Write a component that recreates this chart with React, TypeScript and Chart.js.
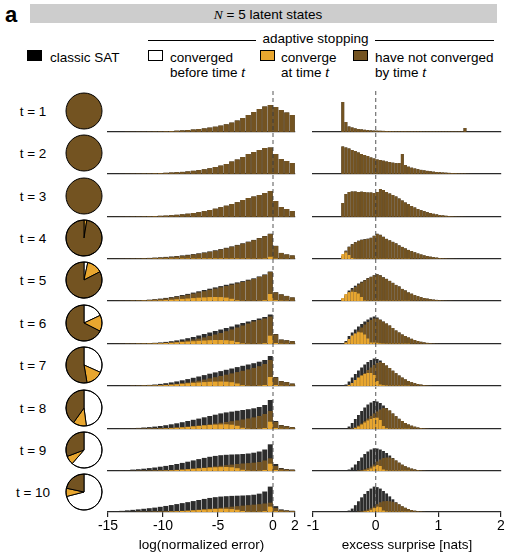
import React, { useEffect, useRef } from 'react';
import { Chart, registerables } from 'chart.js';

Chart.register(...registerables);

const FONT = "'Liberation Sans', Arial, Helvetica, sans-serif";
const COLOR_SAT = '#2c2c2c';
const COLOR_NOT = '#735321';
const COLOR_AT = '#e8a62f';
const COLOR_BEFORE = '#ffffff';

const ROW_LABELS = ['t = 1', 't = 2', 't = 3', 't = 4', 't = 5', 't = 6', 't = 7', 't = 8', 't = 9', 't = 10'];

// bins
const LEFT_BIN_START = -15;
const LEFT_BIN_WIDTH = 0.5;
const RIGHT_BIN_START = -0.6;
const RIGHT_BIN_WIDTH = 0.05;
const LEFT_MIN = -15;
const LEFT_MAX = 2;
const RIGHT_MIN = -1;
const RIGHT_MAX = 2;
const LEFT_TICKS = [-15, -10, -5, 0, 2];
const RIGHT_TICKS = [-1, 0, 1, 2];

// pie shares (%): converged before t, converge at t, not converged by t
const PIE_BEFORE = [0, 0, 0, 0, 3.4, 18, 31.7, 47.9, 61.4, 71];
const PIE_AT = [0, 0, 0, 2.5, 14, 14.5, 15.6, 12, 7.8, 7.4];
const PIE_NOT = [100, 100, 100, 97.5, 82.6, 67.5, 52.7, 40.1, 30.8, 21.6];

// ---- left column: log(normalized error) histograms ----
const LEFT_NOT_T1 = [0,0,0,0.2,0.2,0.3,0.3,0.4,0.5,0.6,0.8,1.0,1.3,1.6,2.0,2.5,3.0,3.6,4.4,5.3,6.4,7.7,9.4,11.5,14,17,20,23,25.5,27,25,22,19.5,17];
const LEFT_SAT_T1 = LEFT_NOT_T1;
const LEFT_AT_T1: number[] = [];
const LEFT_NOT_T2 = [0,0,0.1,0.2,0.3,0.4,0.5,0.6,0.8,1.0,1.2,1.5,1.8,2.1,2.6,3.2,3.9,4.7,5.7,7,8.4,10,12.5,14.5,17,20,22,24,26,26.5,20,15,13,11];
const LEFT_SAT_T2 = LEFT_NOT_T2;
const LEFT_AT_T2: number[] = [];
const LEFT_NOT_T3 = [0.1,0.1,0.2,0.3,0.4,0.5,0.6,0.8,1.0,1.2,1.4,1.8,2.2,2.7,3.3,4,4.8,5.8,7,8.3,9.8,11.3,13,14.8,17,19,20.5,22,24,26,16,10,8,6];
const LEFT_SAT_T3 = LEFT_NOT_T3;
const LEFT_AT_T3: number[] = [];
const LEFT_NOT_T4 = [0.1,0.1,0.2,0.3,0.4,0.5,0.7,0.9,1.1,1.4,1.7,2.1,2.6,3.1,3.7,4.4,5.2,6.1,7.1,8.2,9.4,10.7,12.2,13.7,15.3,17,18.8,20.7,22.7,25,13,6,4.5,3.5];
const LEFT_SAT_T4 = [0.1,0.2,0.3,0.4,0.5,0.7,0.9,1.1,1.4,1.7,2.1,2.5,3.0,3.6,4.2,4.9,5.7,6.6,7.6,8.7,9.9,11.2,12.6,14.1,15.7,17.4,19.1,21,23,25.3,13.2,6.1,4.6,3.6];
const LEFT_AT_T4 = [0,0,0,0,0,0,0,0,0.2,0.3,0.3,0.4,0.4,0.5,0.5,0.5,0.5,0.6,0.6,0.6,0.6,0.5,0.5,0.5,0.4,0.4,0.3,0.3,0.5,2.2,0.4,0.1,0.1,0];
const LEFT_NOT_T5 = [0,0.1,0.2,0.3,0.4,0.6,0.8,1.1,1.5,2.0,2.6,3.3,4.2,5.2,6.2,7.4,8.6,9.8,11.1,12.4,13.7,15,16.3,17.6,19,20.5,22,24,26,29,8.5,6.5,5,3.5];
const LEFT_SAT_T5 = [0,0.1,0.2,0.3,0.5,0.7,1.0,1.3,1.8,2.4,3.1,3.9,4.9,6.0,7.1,8.4,9.7,11,12.3,13.6,14.9,16.2,17.4,18.6,19.9,21.3,22.7,24.6,26.6,29.5,8.8,6.7,5.1,3.6];
const LEFT_AT_T5 = [0,0,0,0,0.1,0.1,0.2,0.3,0.4,0.6,0.9,1.3,1.7,2.1,2.5,2.9,3.3,3.6,3.9,4.0,3.9,3.4,2.2,0.7,0.2,0.1,0.1,0.2,0.8,7,0.8,0.3,0.2,0.1];
const LEFT_NOT_T6 = [0,0.1,0.2,0.2,0.3,0.4,0.5,0.6,0.8,1.0,1.3,1.7,2.2,2.8,3.5,4.4,5.4,6.6,8,9.5,11,12.8,14.6,16.5,18.5,20.5,22.5,24,25.5,27.5,9.5,4.3,3.6,2.8];
const LEFT_SAT_T6 = [0,0.1,0.2,0.3,0.4,0.5,0.7,0.9,1.2,1.6,2.1,2.8,3.6,4.6,5.8,7,8.5,10,11.5,13,14.5,16,17.5,19.5,21,22.5,24,25.5,27,29.5,10,4.5,3.8,3];
const LEFT_AT_T6 = [0,0,0,0.1,0.1,0.2,0.2,0.3,0.4,0.6,0.9,1.2,1.6,2.0,2.4,2.8,3.2,3.5,3.8,4.0,4.0,3.8,3.3,2.0,0.6,0.2,0.1,0.2,0.8,8.3,1.0,0.3,0.2,0.1];
const LEFT_NOT_T7 = [0,0,0.1,0.1,0.2,0.3,0.4,0.5,0.7,1.0,1.3,1.7,2.2,2.8,3.5,4.3,5.2,6.4,7.6,8.8,10,11.3,12.6,13.9,15.2,16.6,18.1,19.8,22,26,8.5,4.7,3.8,2.3];
const LEFT_SAT_T7 = [0,0.1,0.2,0.3,0.4,0.6,0.8,1.1,1.5,2.1,2.8,3.6,4.6,5.7,6.9,8.2,9.5,10.9,12.3,13.6,14.9,16.2,17.5,18.9,20.2,21.5,22.8,24.3,26,30,9,5,4,2.5];
const LEFT_AT_T7 = [0,0,0,0,0.1,0.1,0.2,0.3,0.4,0.6,0.9,1.3,1.7,2.2,2.7,3.1,3.5,3.9,4.2,4.4,4.5,4.3,3.8,2.5,0.8,0.2,0.1,0.3,1.0,9,1.0,0.3,0.2,0.1];
const LEFT_NOT_T8 = [0,0,0.1,0.1,0.2,0.3,0.4,0.5,0.6,0.8,1.0,1.3,1.6,2.0,2.4,2.9,3.4,4.0,4.7,5.4,6.2,7.0,7.8,8.6,9.5,10.5,11.6,13,15,18,7,3.6,2.7,1.8];
const LEFT_SAT_T8 = [0.1,0.2,0.4,0.6,0.8,1.1,1.5,1.9,2.4,3.0,3.8,4.7,5.7,6.8,8.0,9.2,10.4,11.7,13,14.3,15.6,16.6,17.4,18.2,19,19.8,20.7,22,24,29,8,4,3,2];
const LEFT_AT_T8 = [0,0,0,0,0,0.1,0.1,0.2,0.2,0.3,0.5,0.8,1.2,1.6,2.1,2.6,3.1,3.6,4.0,4.4,4.6,4.7,4.3,3.2,1.2,0.3,0.1,0.3,1,7.3,1,0.3,0.2,0.1];
const LEFT_NOT_T9 = [0,0,0.1,0.1,0.2,0.2,0.3,0.4,0.5,0.6,0.8,1.0,1.3,1.6,2.0,2.4,2.9,3.4,4.0,4.6,5.2,5.8,6.4,7.0,7.5,7.9,8.3,9,10.5,12.7,5,2.3,1.6,1.2];
const LEFT_SAT_T9 = [0.2,0.4,0.7,1.0,1.4,1.8,2.3,2.9,3.5,4.3,5.1,6.0,7.0,8.1,9.3,10.6,11.9,13.1,14.2,15.1,15.8,16.2,16.5,16.7,17,17.5,18.3,19.5,21.5,26.7,7,3,2,1.5];
const LEFT_AT_T9 = [0,0,0,0,0,0.1,0.1,0.1,0.2,0.3,0.4,0.6,0.9,1.3,1.7,2.2,2.6,3.0,3.4,3.7,3.9,4.0,3.7,2.8,1.2,0.4,0.2,0.3,1,7.3,1,0.3,0.2,0.1];
const LEFT_NOT_T10 = [0,0,0.1,0.1,0.1,0.2,0.2,0.3,0.4,0.5,0.6,0.8,1.0,1.3,1.6,2.0,2.4,2.8,3.3,3.8,4.3,4.8,5.4,6.0,6.5,7.0,7.5,8,8.7,9.5,4,2,1.4,1.0];
const LEFT_SAT_T10 = [0.4,0.8,1.2,1.7,2.2,2.7,3.3,3.9,4.5,5.3,6.2,7.1,8.1,9.1,10.1,11.2,12.3,13.4,14.4,15.2,15.8,16.2,16.5,16.7,16.9,17.2,17.7,18.8,21,26,6,2.7,1.8,1.3];
const LEFT_AT_T10 = [0,0,0,0,0,0.1,0.1,0.1,0.2,0.2,0.3,0.5,0.7,1.0,1.3,1.7,2.1,2.5,2.8,3.1,3.3,3.3,3.0,2.3,1.0,0.3,0.2,0.3,0.9,5.5,0.8,0.3,0.2,0.1];

// ---- right column: excess surprise histograms (bins start at -0.6) ----
const RIGHT_NOT_T1 = [0,30,10,5.5,4.5,3.6,3.0,2.6,2.2,1.9,1.6,1.4,1.3,1.2,1.1,1.0,0.9,0.8,0.7,0.7,0.7,0.7,0.6,0.6,0.6,0.6,0.6,0.5,0.5,0.5,0.5,0.5,0.5,0.5,0.5,0.5,0.5,0.5,0.5,0.5,4];
const RIGHT_SAT_T1 = RIGHT_NOT_T1;
const RIGHT_AT_T1: number[] = [];
const RIGHT_NOT_T2 = [0,27.5,26.5,25.5,24,23,21.5,20,19,18,16.5,15.5,14.5,14,13.3,12.5,12,11.3,10.8,11,20,9,7.3,6.3,5.5,4.8,4.1,3.6,3.1,2.7,2.3,2.0,1.8,1.5,1.3,1.1,0.9,0.8,0.6,0.5,0.4,0.2,0.1];
const RIGHT_SAT_T2 = RIGHT_NOT_T2;
const RIGHT_AT_T2: number[] = [];
const RIGHT_NOT_T3 = [0,14,23,25,25.5,25.5,25,25.3,25,24.5,24.5,24,25,28,27,25,23.5,22,20.5,18.5,16.5,14.5,12.8,11,9.5,8,6.8,5.8,4.8,4,3.2,2.6,2.0,1.6,1.2,0.9,0.6,0.4,0.3,0.2,0.1];
const RIGHT_SAT_T3 = RIGHT_NOT_T3;
const RIGHT_AT_T3: number[] = [];
const RIGHT_NOT_T4 = [0,3,8,12,14.5,16.5,18,19,19.5,20,21,23,25,24,22,20,18.5,17,15.5,13.5,12,10.5,9,7.8,6.6,5.5,4.5,3.6,2.9,2.3,1.8,1.4,1.0,0.7,0.5,0.3,0.2,0.1];
const RIGHT_SAT_T4 = [0,3.3,8.4,12.4,14.9,16.9,18.4,19.4,19.9,20.4,21.3,23.3,25.3,24.3,22.3,20.2,18.7,17.2,15.7,13.7,12.1,10.6,9.1,7.9,6.7,5.5,4.5,3.6,2.9,2.3,1.8,1.4,1.0,0.7,0.5,0.3,0.2,0.1];
const RIGHT_AT_T4 = [0,5,6.5,4,1,0.3,0.2,0.2,0.2,0.2,0.2,0.2,0.2,0.2,0.2,0.2,0.2,0.2,0.2,0.2,0.2,0.2,0.2];
const RIGHT_NOT_T5 = [0,1.5,5,9,11.5,14,16.5,18.5,20.5,22.5,24,25.5,26.5,25.5,23.5,22,20,18,16,14.5,12,10.5,8.5,7.3,5.8,4.8,3.8,3,2.4,1.8,1.4,1.1,0.8,0.5,0.3,0.2,0.1];
const RIGHT_SAT_T5 = [0,2.5,6.5,10.5,13,15.3,17.5,19.3,21,23,24.3,25.8,26.8,25.8,23.8,22.2,20.2,18.2,16.1,14.6,12.1,10.6,8.6,7.3,5.8,4.8,3.8,3,2.4,1.8,1.4,1.1,0.8,0.5,0.3,0.2,0.1];
const RIGHT_AT_T5 = [0,3,7,8.8,9.3,9,7.5,4,0.5,0.3,0.2,0.2,0.2,0.2,0.2,0.2,0.2,0.2,0.2,0.2,0.2,0.2,0.2];
const RIGHT_NOT_T6 = [0,0.2,1.5,4.5,7.5,10.5,13.5,16.5,19.5,22,24,25.5,25.5,24,22.3,20.5,18.5,16,13.5,11.5,9.5,8,6.5,5.2,4,3,2.2,1.6,1.1,0.7,0.4,0.2,0.1];
const RIGHT_SAT_T6 = [0,0.5,3,8,11.5,14.5,17.5,20,22.5,24.5,26.5,27.5,26.5,24.5,22.5,20.5,18.5,16,13.5,11.5,9.5,8,6.5,5.2,4,3,2.2,1.6,1.1,0.7,0.4,0.2,0.1];
const RIGHT_AT_T6 = [0,0,1.5,5,8.5,10.5,11.8,11.5,9.5,5.5,1.5,1.5,1.2,0.6,0.4,0.3,0.3,0.3,0.3,0.3,0.3,0.3,0.3];
const RIGHT_NOT_T7 = [0,0,0.3,1.2,3,5.5,8,10.5,13,16,18.5,21,23,24,23,20.5,18,15.3,12.8,10.5,8.4,6.6,5,3.8,2.8,2,1.4,0.9,0.5,0.3,0.1];
const RIGHT_SAT_T7 = [0,0,1.5,4.5,8.5,12,15.5,18.5,21.5,24,26,27.5,27,25.5,23,20.5,18,15.3,12.8,10.5,8.4,6.6,5,3.8,2.8,2,1.4,0.9,0.5,0.3,0.1];
const RIGHT_AT_T7 = [0,0,0,1,3,6,8.5,10.5,12,13,13,11,5,1.5,0.8,0.5,0.3,0.3,0.3,0.3,0.3,0.3,0.3];
const RIGHT_NOT_T8 = [0,0,0,0.3,0.8,1.8,3.5,5.5,8,10.5,13,15.5,17.5,19.5,21,20.5,18.5,15.5,12.8,10.2,8,6,4.5,3.3,2.3,1.5,1.0,0.6,0.3,0.1];
const RIGHT_SAT_T8 = [0,0,0.5,2.5,6,10,14,18,21.5,24.5,26.5,28,27.5,26,23.5,21,18.5,15.5,12.8,10.2,8,6,4.5,3.3,2.3,1.5,1.0,0.6,0.3,0.1];
const RIGHT_AT_T8 = [0,0,0,0,0,1,2.5,4.5,6.5,8.5,10,11,11.3,9,3,0.8,0.3,0.3,0.3,0.3,0.3,0.3,0.3];
const RIGHT_NOT_T9 = [0,0,0,0,0,0,0.5,1,1.8,3,4.5,6.5,9.5,11.5,13,13.5,13.5,12.5,10.5,8.3,6.3,4.7,3.4,2.4,1.6,1.0,0.6,0.3,0.1];
const RIGHT_SAT_T9 = [0,0,0.3,1.5,3.5,6.5,10,13.5,17,19.5,21.5,22.7,22.5,21.5,20,18,15.5,13,10.5,8.3,6.3,4.7,3.4,2.4,1.6,1.0,0.6,0.3,0.1];
const RIGHT_AT_T9 = [0,0,0,0,0,0,0,0,0.5,1.2,2.5,4.5,6,5,1.5,0.5,0.3,0.3,0.3,0.3,0.3,0.3,0.3];
const RIGHT_NOT_T10 = [0,0,0,0,0,0,0.4,0.8,1.5,2.5,3.8,5.5,8,10,11,11.3,11,10.5,9.5,7.8,5.8,4.3,3,2,1.3,0.8,0.5,0.2];
const RIGHT_SAT_T10 = [0,0,0.3,1.5,3.5,7,11,15,18.5,21.5,24,26,25.5,24,21.5,19,16,13,10,7.8,5.8,4.3,3,2,1.3,0.8,0.5,0.2];
const RIGHT_AT_T10 = [0,0,0,0,0,0,0,0,0.5,1,2.2,4,5.5,5,1.5,0.5,0.3,0.3,0.3,0.3,0.3,0.3,0.3];

const LEFT_SAT = [LEFT_SAT_T1, LEFT_SAT_T2, LEFT_SAT_T3, LEFT_SAT_T4, LEFT_SAT_T5, LEFT_SAT_T6, LEFT_SAT_T7, LEFT_SAT_T8, LEFT_SAT_T9, LEFT_SAT_T10];
const LEFT_NOT = [LEFT_NOT_T1, LEFT_NOT_T2, LEFT_NOT_T3, LEFT_NOT_T4, LEFT_NOT_T5, LEFT_NOT_T6, LEFT_NOT_T7, LEFT_NOT_T8, LEFT_NOT_T9, LEFT_NOT_T10];
const LEFT_AT = [LEFT_AT_T1, LEFT_AT_T2, LEFT_AT_T3, LEFT_AT_T4, LEFT_AT_T5, LEFT_AT_T6, LEFT_AT_T7, LEFT_AT_T8, LEFT_AT_T9, LEFT_AT_T10];
const RIGHT_SAT = [RIGHT_SAT_T1, RIGHT_SAT_T2, RIGHT_SAT_T3, RIGHT_SAT_T4, RIGHT_SAT_T5, RIGHT_SAT_T6, RIGHT_SAT_T7, RIGHT_SAT_T8, RIGHT_SAT_T9, RIGHT_SAT_T10];
const RIGHT_NOT = [RIGHT_NOT_T1, RIGHT_NOT_T2, RIGHT_NOT_T3, RIGHT_NOT_T4, RIGHT_NOT_T5, RIGHT_NOT_T6, RIGHT_NOT_T7, RIGHT_NOT_T8, RIGHT_NOT_T9, RIGHT_NOT_T10];
const RIGHT_AT = [RIGHT_AT_T1, RIGHT_AT_T2, RIGHT_AT_T3, RIGHT_AT_T4, RIGHT_AT_T5, RIGHT_AT_T6, RIGHT_AT_T7, RIGHT_AT_T8, RIGHT_AT_T9, RIGHT_AT_T10];

// ---- layout ----
const ROW0_BASE = 131.7;
const ROW_PITCH = 42.4;
const PANEL_H = 42;
const AXIS_H = 40;
const PAD = 22;
const LEFT_X0 = 108;
const LEFT_X1 = 295;
const RIGHT_X0 = 313;
const RIGHT_X1 = 501;
const PIE_CX = 84;
const PIE_BOX = 42;

const baseOf = (i: number) => Math.round(ROW0_BASE + i * ROW_PITCH);

const zeroLinePlugin = {
  id: 'zeroLine',
  afterDatasetsDraw(chart: any, _args: any, opts: any) {
    const { ctx, chartArea, scales } = chart;
    const x = scales.x.getPixelForValue(0);
    const y0 = chartArea.top;
    ctx.save();
    ctx.beginPath();
    ctx.setLineDash([4, 3]);
    ctx.lineDashOffset = ((opts && opts.phase) || 0) % 7;
    ctx.strokeStyle = 'rgba(55,55,55,0.65)';
    ctx.lineWidth = 1.3;
    ctx.moveTo(x, y0);
    ctx.lineTo(x, chartArea.bottom);
    ctx.stroke();
    ctx.restore();
  },
};

const pieOutlinePlugin = {
  id: 'pieOutline',
  afterDatasetsDraw(chart: any) {
    const meta = chart.getDatasetMeta(0);
    const arc = meta.data[0];
    if (!arc) return;
    const { x, y, outerRadius } = arc.getProps(['x', 'y', 'outerRadius'], true);
    const ctx = chart.ctx;
    ctx.save();
    ctx.beginPath();
    ctx.arc(x, y, outerRadius, 0, Math.PI * 2);
    ctx.strokeStyle = '#000';
    ctx.lineWidth = 1;
    ctx.stroke();
    ctx.restore();
  },
};

function Hist({ side, row }: { side: 'left' | 'right'; row: number }) {
  const ref = useRef<HTMLCanvasElement>(null);
  const isLeft = side === 'left';
  const isLast = row === ROW_LABELS.length - 1;
  const x0 = isLeft ? LEFT_X0 : RIGHT_X0;
  const x1 = isLeft ? LEFT_X1 : RIGHT_X1;
  const base = baseOf(row);
  const top = base - PANEL_H;
  const width = x1 - x0 + 2 * PAD;
  const height = PANEL_H + (isLast ? AXIS_H : 0) + 2;

  useEffect(() => {
    const start = isLeft ? LEFT_BIN_START : RIGHT_BIN_START;
    const bw = isLeft ? LEFT_BIN_WIDTH : RIGHT_BIN_WIDTH;
    const ticks = isLeft ? LEFT_TICKS : RIGHT_TICKS;
    const sat = isLeft ? LEFT_SAT[row] : RIGHT_SAT[row];
    const not = isLeft ? LEFT_NOT[row] : RIGHT_NOT[row];
    const at = isLeft ? LEFT_AT[row] : RIGHT_AT[row];
    const pts = (arr: number[]) => arr.map((v, i) => ({ x: start + bw * (i + 0.5), y: v }));
    const ds = (label: string, arr: number[], color: string, order: number) => ({
      label,
      data: pts(arr),
      backgroundColor: color,
      borderWidth: 0,
      grouped: false,
      barPercentage: 0.9,
      categoryPercentage: 1,
      order,
    });
    const chart = new Chart(ref.current as HTMLCanvasElement, {
      type: 'bar',
      data: {
        datasets: [
          ds('converge at time t', at, COLOR_AT, 0),
          ds('have not converged by time t', not, COLOR_NOT, 1),
          ds('classic SAT', sat, COLOR_SAT, 2),
        ],
      },
      options: {
        responsive: false,
        animation: false,
        events: [],
        layout: { padding: { left: PAD, right: PAD, top: 0, bottom: 2 } },
        plugins: {
          legend: { display: false },
          tooltip: { enabled: false },
          zeroLine: { phase: top },
        } as any,
        scales: {
          x: {
            type: 'linear',
            min: isLeft ? LEFT_MIN : RIGHT_MIN,
            max: isLeft ? LEFT_MAX : RIGHT_MAX,
            offset: false,
            afterBuildTicks: (s: any) => {
              s.ticks = ticks.map((v) => ({ value: v }));
            },
            grid: {
              display: isLast,
              drawOnChartArea: false,
              drawTicks: isLast,
              tickLength: 5,
              color: '#222',
              lineWidth: 1.2,
              offset: false,
            },
            border: { display: true, color: '#2a2a2a', width: 1.3 },
            ticks: {
              display: isLast,
              padding: 1,
              color: '#000',
              maxRotation: 0,
              autoSkip: false,
              font: { size: 14, family: FONT },
            },
            title: {
              display: isLast,
              text: isLeft ? 'log(normalized error)' : 'excess surprise [nats]',
              color: '#000',
              font: { size: 13.5, family: FONT },
              padding: { top: 1, bottom: 0 },
            },
          },
          y: { display: false, min: 0, max: PANEL_H },
        },
      } as any,
      plugins: [zeroLinePlugin],
    });
    return () => chart.destroy();
  }, []);

  return (
    <canvas
      ref={ref}
      width={width}
      height={height}
      style={{ position: 'absolute', left: x0 - PAD, top, width, height }}
    />
  );
}

function Pie({ row }: { row: number }) {
  const ref = useRef<HTMLCanvasElement>(null);
  const cy = baseOf(row) - 21;
  useEffect(() => {
    const chart = new Chart(ref.current as HTMLCanvasElement, {
      type: 'pie',
      data: {
        labels: ['converged before time t', 'converge at time t', 'have not converged by time t'],
        datasets: [
          {
            data: [PIE_BEFORE[row], PIE_AT[row], PIE_NOT[row]],
            backgroundColor: [COLOR_BEFORE, COLOR_AT, COLOR_NOT],
            borderColor: '#000',
            borderWidth: (c: any) => (c.raw >= 100 ? 0 : 1),
          },
        ],
      },
      options: {
        responsive: false,
        animation: false,
        events: [],
        layout: { padding: 2.5 },
        plugins: { legend: { display: false }, tooltip: { enabled: false } },
      } as any,
      plugins: [pieOutlinePlugin],
    });
    return () => chart.destroy();
  }, []);
  return (
    <canvas
      ref={ref}
      width={PIE_BOX}
      height={PIE_BOX}
      style={{ position: 'absolute', left: PIE_CX - PIE_BOX / 2, top: cy - PIE_BOX / 2, width: PIE_BOX, height: PIE_BOX }}
    />
  );
}

function Txt({
  x,
  baseline,
  size = 13.5,
  align = 'left',
  weight = 400,
  children,
}: {
  x: number;
  baseline: number;
  size?: number;
  align?: 'left' | 'center';
  weight?: number;
  children: React.ReactNode;
}) {
  const top = baseline - 0.8465 * size;
  const style: React.CSSProperties = {
    position: 'absolute',
    top,
    height: size,
    lineHeight: `${size}px`,
    fontSize: size,
    fontFamily: FONT,
    fontWeight: weight,
    color: '#000',
    whiteSpace: 'nowrap',
  };
  if (align === 'center') {
    style.left = x - 150;
    style.width = 300;
    style.textAlign = 'center';
  } else {
    style.left = x;
  }
  return <div style={style}>{children}</div>;
}

function Swatch({ x, color }: { x: number; color: string }) {
  return (
    <div
      style={{
        position: 'absolute',
        left: x,
        top: 50,
        width: 15,
        height: 11,
        background: color,
        border: '1px solid #000',
        boxSizing: 'border-box',
      }}
    />
  );
}

export default function App() {
  const rows = ROW_LABELS.map((_, i) => i);
  return (
    <div
      style={{
        position: 'absolute',
        left: 0,
        top: 0,
        width: 525,
        height: 556,
        background: '#fff',
        overflow: 'hidden',
        fontFamily: FONT,
      }}
    >
      <Txt x={5} baseline={23} size={22} weight={700}>a</Txt>
      <div style={{ position: 'absolute', left: 30, top: 3.5, width: 467, height: 19.5, background: '#cdcdcd' }} />
      <Txt x={268} baseline={19.7} align="center">
        <i style={{ fontFamily: "'Liberation Serif', 'Times New Roman', serif" }}>N</i> = 5 latent states
      </Txt>

      <Txt x={315.5} baseline={43} align="center">adaptive stopping</Txt>
      <div style={{ position: 'absolute', left: 148, top: 40, width: 108, height: 1, background: '#000' }} />
      <div style={{ position: 'absolute', left: 375, top: 40, width: 119, height: 1, background: '#000' }} />

      <Swatch x={27} color="#000" />
      <Txt x={50} baseline={62.5}>classic SAT</Txt>
      <Swatch x={148} color={COLOR_BEFORE} />
      <Txt x={170} baseline={62.5}>converged</Txt>
      <Txt x={170} baseline={77}>before time <i>t</i></Txt>
      <Swatch x={260} color={COLOR_AT} />
      <Txt x={281} baseline={62.5}>converge</Txt>
      <Txt x={281} baseline={77}>at time <i>t</i></Txt>
      <Swatch x={353} color={COLOR_NOT} />
      <Txt x={375} baseline={62.5}>have not converged</Txt>
      <Txt x={375} baseline={77}>by time <i>t</i></Txt>

      {rows.map((i) => (
        <Txt key={'l' + i} x={33} baseline={baseOf(i) - 21 + 5.8} align="center">
          {ROW_LABELS[i]}
        </Txt>
      ))}
      {rows.map((i) => (
        <Pie key={'p' + i} row={i} />
      ))}
      {rows.map((i) => (
        <Hist key={'hl' + i} side="left" row={i} />
      ))}
      {rows.map((i) => (
        <Hist key={'hr' + i} side="right" row={i} />
      ))}
    </div>
  );
}
